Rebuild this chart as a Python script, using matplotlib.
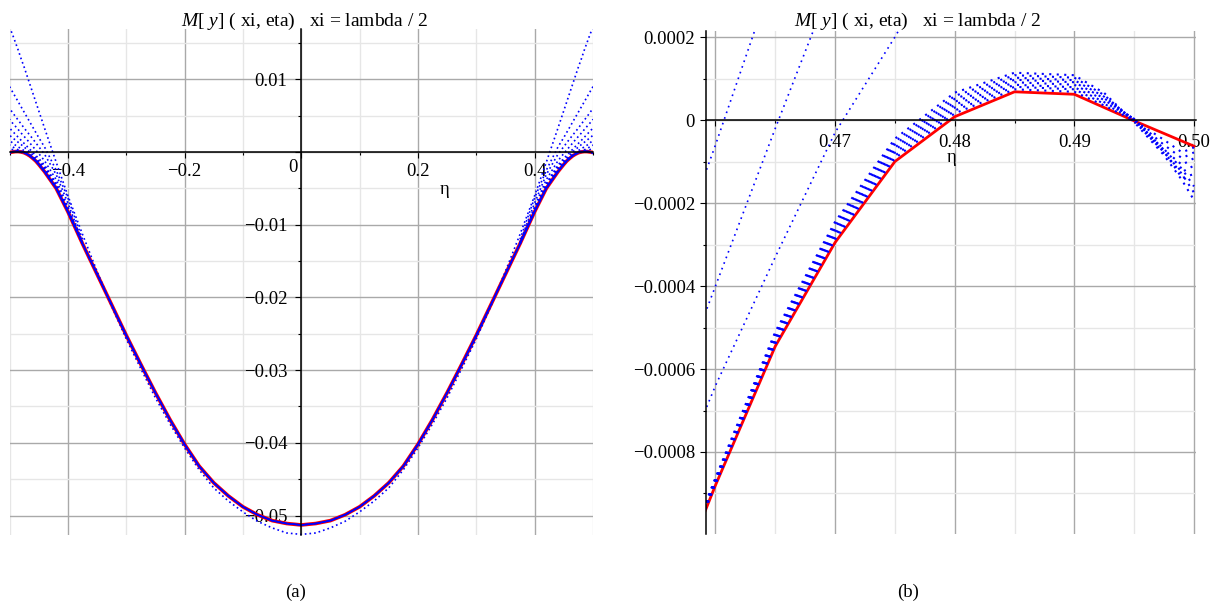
import numpy as np
import matplotlib
matplotlib.use("Agg")
import matplotlib.pyplot as plt
from matplotlib.ticker import MultipleLocator, FuncFormatter

plt.rcParams['font.family'] = ['Liberation Serif', 'DejaVu Serif']
plt.rcParams['mathtext.fontset'] = 'custom'
plt.rcParams['mathtext.rm'] = 'Liberation Serif'
plt.rcParams['mathtext.it'] = 'Liberation Serif:italic'

SCALE = 1e-4  # all moment values below are in units of 1e-4

# exact moment M_y(lambda/2, eta) on the half span eta >= 0 (symmetric in eta)
red_eta = [0.0, 0.025, 0.05, 0.075, 0.1, 0.125, 0.15, 0.175, 0.2, 0.225, 0.25,
           0.275, 0.3, 0.325, 0.35, 0.375, 0.4, 0.42, 0.44, 0.45, 0.455, 0.46,
           0.465, 0.47, 0.475, 0.48, 0.485, 0.49, 0.495, 0.5]
red_my = [-513, -511, -507, -499, -488, -473, -455, -432, -402, -368, -331,
          -292, -252, -210, -168, -126, -82, -50, -27, -17, -12.4, -8.8,
          -5.45, -2.95, -1.0, 0.08, 0.68, 0.62, -0.02, -0.63]

# first partial sum, same eta points as the exact curve
first_sum = [-526, -524, -517, -508, -495, -480, -462, -437, -407, -374, -338,
             -298, -257, -212, -164, -113, -60, -14, 33, 57, 69, 81,
             93, 105, 117, 128, 140, 151, 162, 172]

# low order partial sums near the edge (they sit on the exact curve for eta < 0.375)
fan_eta = [0.375, 0.4, 0.42, 0.44, 0.45, 0.455, 0.46, 0.465, 0.47, 0.475,
           0.48, 0.485, 0.49, 0.495, 0.5]
fan_sums = [
    [-120, -63, -25, 7, 20, 27, 34, 41, 48, 55, 62, 69, 76, 83, 90],
    [-124, -70, -31, -3, 7.5, 12.7, 18, 23, 28, 33, 38.5, 43.7, 49, 54.5, 60],
    [-126, -75, -38, -12, -2, 2.7, 7.5, 12.2, 17, 21.5, 26, 30.8, 35.5, 40, 45],
    [-126, -78, -43, -18, -8.8, -4.6, -0.6, 3.6, 7.8, 11.9, 16, 20.2, 24.5, 28.7, 33],
    [-126, -80, -45, -20, -11.8, -7.8, -4.0, -0.2, 3.5, 6.9, 10.2, 13.3, 16.5, 19.7, 23],
    [-126, -81, -46, -21.5, -13.5, -9.9, -6.4, -3.3, -0.3, 2.0, 4.5, 7.0, 9.5, 12.7, 16],
    [-126, -81, -47, -23, -14.5, -11, -7.5, -4.8, -2.2, -0.5, 1.2, 3.0, 5.0, 7.2, 9.6],
    [-126, -82, -48, -25, -15.5, -12, -8.2, -5.5, -2.8, -1.6, -0.5, 0.7, 2.0, 3.4, 5.0],
]
n_fan_zoom = 6  # the zoomed view only holds sums up to the seventh

# higher order partial sums: equal to the exact curve for eta < 0.45
band_eta = [0.45, 0.455, 0.46, 0.465, 0.47, 0.475, 0.48, 0.485, 0.49, 0.4925,
            0.495, 0.4975, 0.499, 0.5]
band_sums = [
    [-16.9, -12.28, -8.62, -5.10, -2.45, -0.45, 0.66, 1.14, 1.08, 0.65, -0.05, -0.85, -1.45, -1.93],
    [-16.91, -12.30, -8.64, -5.15, -2.51, -0.52, 0.58, 1.08, 1.02, 0.60, -0.03, -0.78, -1.30, -1.75],
    [-16.93, -12.31, -8.67, -5.19, -2.58, -0.59, 0.51, 1.02, 0.96, 0.56, 0.0, -0.70, -1.18, -1.60],
    [-16.94, -12.33, -8.69, -5.23, -2.64, -0.66, 0.44, 0.97, 0.91, 0.52, 0.02, -0.75, -1.40, -1.30],
    [-16.95, -12.34, -8.71, -5.27, -2.70, -0.72, 0.37, 0.91, 0.85, 0.48, 0.03, -0.80, -1.25, -1.10],
    [-16.96, -12.35, -8.73, -5.32, -2.76, -0.79, 0.30, 0.85, 0.79, 0.43, 0.03, -0.72, -1.08, -0.92],
    [-16.97, -12.37, -8.75, -5.36, -2.82, -0.86, 0.23, 0.80, 0.74, 0.39, 0.01, -0.60, -0.92, -0.78],
    [-16.99, -12.38, -8.77, -5.40, -2.88, -0.92, 0.16, 0.74, 0.68, 0.35, -0.01, -0.48, -0.78, -0.66],
]

title = r'$M$[ $y$] ( xi, eta)   xi = lambda / 2'
BLUE = '#0000ff'


def mirror(eta, vals):
    """Both halves of a curve that is symmetric in eta."""
    eta = np.asarray(eta, float)
    vals = np.asarray(vals, float) * SCALE
    return np.concatenate([-eta[::-1], eta]), np.concatenate([vals[::-1], vals])


def band_full(vals):
    """Band sum over the whole half span: exact curve below eta = 0.45."""
    eta = [e for e in red_eta if e < band_eta[0]] + band_eta
    my = [v for e, v in zip(red_eta, red_my) if e < band_eta[0]] + vals
    return eta, my


def fmt_num(v, digits):
    if abs(v) < 1e-12:
        return '0'
    return f"{v:.{digits}f}".replace('-', '\u2212')


def style_axes(ax):
    ax.spines['top'].set_visible(False)
    ax.spines['right'].set_visible(False)
    for s in ('left', 'bottom'):
        ax.spines[s].set_color('black')
        ax.spines[s].set_linewidth(1.1)
        ax.spines[s].set_zorder(5)
    ax.grid(which='major', color='#a9a9a9', lw=1.0)
    ax.grid(which='minor', color='#e6e6e6', lw=1.0)
    ax.set_axisbelow(True)
    ax.tick_params(which='major', direction='out', length=4, width=0.8,
                   labelsize=13.5, colors='black')
    ax.tick_params(which='minor', direction='out', length=2.5, width=0.8)
    ax.tick_params(axis='x', pad=4)
    ax.tick_params(axis='y', pad=6)
    ax.patch.set_alpha(0)


def draw_curves(ax, fans, dots, band_phase, red_lw, band_lw):
    x, y = mirror(red_eta, red_my)
    ax.plot(x, y, color='#ff0000', lw=red_lw, zorder=3)
    x, y = mirror(red_eta, first_sum)
    ax.plot(x, y, color=BLUE, lw=1.2, ls=(0, dots), zorder=4)
    for vals in fans:
        eta = np.asarray(fan_eta)
        my = np.asarray(vals) * SCALE
        # each edge drawn on its own so the two halves stay apart
        ax.plot(eta, my, color=BLUE, lw=1.2, ls=(0, dots), zorder=4)
        ax.plot(-eta, my, color=BLUE, lw=1.2, ls=(0, dots), zorder=4)
    for k, vals in enumerate(band_sums):
        x, y = mirror(*band_full(vals))
        ax.plot(x, y, color=BLUE, lw=band_lw, ls=(band_phase * k, dots), zorder=4)


W, H = 1224, 606
fig = plt.figure(figsize=(W / 100, H / 100), dpi=100)

# whole span
ax1 = fig.add_axes([9.5 / W, 1 - 535 / H, 583.5 / W, 506 / H])
draw_curves(ax1, fan_sums, (1, 1.8), 0.35, 2.6, 1.1)
ax1.set_xlim(-0.5, 0.5)
ax1.set_ylim(-0.05268, 0.01692)
ax1.spines['left'].set_position(('data', 0))
ax1.spines['bottom'].set_position(('data', 0))
ax1.xaxis.set_major_locator(MultipleLocator(0.2))
ax1.xaxis.set_minor_locator(MultipleLocator(0.1))
ax1.yaxis.set_major_locator(MultipleLocator(0.01))
ax1.yaxis.set_minor_locator(MultipleLocator(0.005))
ax1.xaxis.set_major_formatter(FuncFormatter(lambda v, p: '' if abs(v) < 1e-9 else fmt_num(v, 1)))
ax1.yaxis.set_major_formatter(FuncFormatter(lambda v, p: '' if abs(v) < 1e-9 else fmt_num(v, 2)))
style_axes(ax1)
ax1.annotate('0', xy=(0, 0), xytext=(-8, -15), textcoords='offset pixels',
             ha='center', va='center', fontsize=13.5)

# close-up of the edge region
ax2 = fig.add_axes([706 / W, 1 - 534 / H, 490 / W, 503 / H])
draw_curves(ax2, fan_sums[:n_fan_zoom], (1, 2.6), 0.0, 2.0, 1.5)
ax2.set_xlim(0.459206, 0.50017)
ax2.set_ylim(-0.0009976, 0.0002145)
ax2.spines['bottom'].set_position(('data', 0))
ax2.xaxis.set_major_locator(MultipleLocator(0.01))
ax2.xaxis.set_minor_locator(MultipleLocator(0.005))
ax2.yaxis.set_major_locator(MultipleLocator(0.0002))
ax2.yaxis.set_minor_locator(MultipleLocator(0.0001))
ax2.xaxis.set_major_formatter(FuncFormatter(lambda v, p: '' if v < 0.465 else fmt_num(v, 2)))
ax2.yaxis.set_major_formatter(FuncFormatter(lambda v, p: fmt_num(v, 4)))
style_axes(ax2)
ax2.tick_params(axis='x', pad=6)
ax2.tick_params(axis='y', pad=4)

# titles, axis names and captions
fig.text(305 / W, 1 - 26 / H, title, ha='center', va='baseline', fontsize=14)
fig.text(918 / W, 1 - 26 / H, title, ha='center', va='baseline', fontsize=14)
fig.text(445 / W, 1 - 190 / H, '\u03b7', ha='center', va='center', fontsize=13.5)
fig.text(952 / W, 1 - 158 / H, '\u03b7', ha='center', va='center', fontsize=13.5)
fig.text(296 / W, 1 - 592 / H, '(a)', ha='center', va='center', fontsize=13.5)
fig.text(908 / W, 1 - 592 / H, '(b)', ha='center', va='center', fontsize=13.5)

fig.savefig('out.png', dpi=100)
